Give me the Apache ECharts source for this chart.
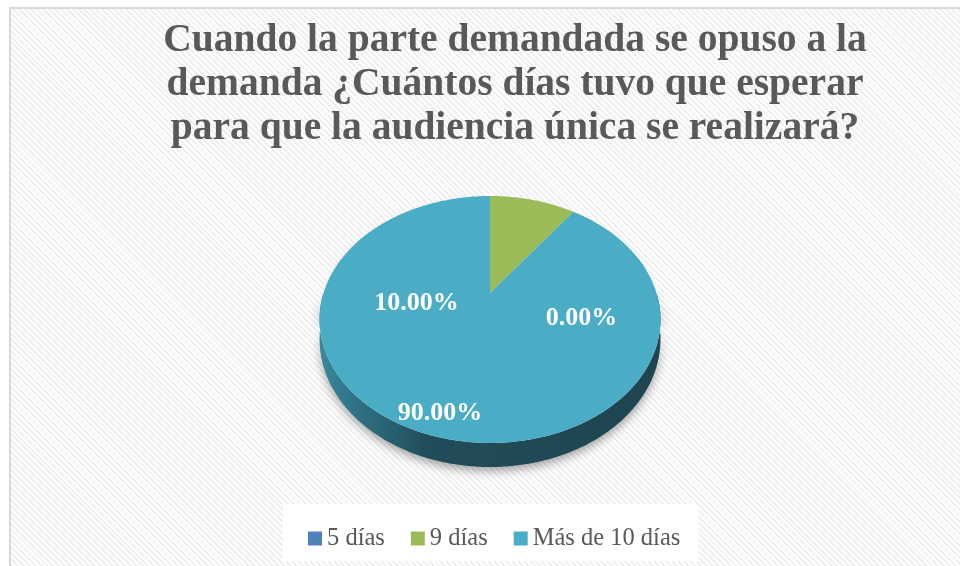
<!DOCTYPE html>
<html>
<head>
<meta charset="utf-8">
<title>Días de espera</title>
<script src="https://cdn.jsdelivr.net/npm/echarts@6/dist/echarts.min.js"></script>
<style>
  body { margin: 0; background: #fff; }
  #wrap { position: relative; width: 960px; height: 566px; overflow: hidden; }
  .frame {
    position: absolute; left: 9px; top: 7px; width: 1010px; height: 620px;
    border: 2px solid #d9d9d9;
    background: repeating-linear-gradient(45deg, #ffffff 0 2.1px, #efefef 2.1px 4.2px);
  }
  #main { position: absolute; left: 0; top: 0; width: 960px; height: 566px; }
</style>
</head>
<body>
<div id="wrap">
  <div class="frame"></div>
  <div id="main"></div>
</div>
<script>
// datos
var titleLines = [
  'Cuando la parte demandada se opuso a la',
  'demanda ¿Cuántos días tuvo que esperar',
  'para que la audiencia única se realizará?'
];
var categories = ['5 días', '9 días', 'Más de 10 días'];
var percents = [0, 10, 90];
var colors = ['#4f81bd', '#9bbb59', '#4bacc6'];

// posiciones de etiqueta (ángulo en grados desde arriba, radio relativo)
var labelAngle = [111.5, 258.6, 196.4];
var labelRadius = [0.564, 0.442, 0.874];

// proyección de la tarta "3D"
var R = 166.5, A = 117.8, B = 0.2145, H = 18.9;
function proj(deg, drop, r) {
  if (r == null) r = 1;
  var t = deg * Math.PI / 180;
  var u = r * Math.sin(t), v = r * Math.cos(t);
  var den = 1 + B * v;
  return [R * u / den, (A * v - drop) / den];
}

var total = percents.reduce(function (s, v) { return s + v; }, 0);
var starts = [];
var acc = 0;
for (var i = 0; i < percents.length; i++) {
  starts.push(acc / total * 360);
  acc += percents[i];
}

var wallFill = [
  '#2f4f75',
  '#5e7634',
  { type: 'linear', x: 0, y: 0, x2: 1, y2: 0, colorStops: [
    { offset: 0, color: '#3a889d' },
    { offset: 0.1, color: '#2f7387' },
    { offset: 0.32, color: '#214c59' },
    { offset: 1, color: '#1e4550' }
  ] }
];

function makeRender(idx) {
  return function (params, api) {
    var a0 = starts[idx];
    var a1 = a0 + percents[idx] / total * 360;
    var children = [];
    if (a1 > a0) {
      var w0 = Math.max(a0, 90), w1 = Math.min(a1, 270);
      if (w1 > w0) {
        var wp = [], a;
        for (a = w0; a < w1; a += 1) wp.push(api.coord(proj(a, 0)));
        wp.push(api.coord(proj(w1, 0)));
        for (a = w1; a > w0; a -= 1) wp.push(api.coord(proj(a, H)));
        wp.push(api.coord(proj(w0, H)));
        children.push({
          type: 'polygon', z2: 1, shape: { points: wp },
          style: { fill: wallFill[idx], shadowBlur: 10, shadowOffsetY: 4, shadowColor: 'rgba(0,0,0,0.35)' }
        });
      }
      var fp = [api.coord([0, 0])];
      for (var b = a0; b < a1; b += 1) fp.push(api.coord(proj(b, 0)));
      fp.push(api.coord(proj(a1, 0)));
      children.push({
        type: 'polygon', z2: 10, shape: { points: fp },
        style: { fill: colors[idx] }
      });
    }
    var lp = api.coord(proj(labelAngle[idx], 0, labelRadius[idx]));
    children.push({
      type: 'text', z2: 100, x: lp[0], y: lp[1],
      style: {
        text: percents[idx].toFixed(2) + '%',
        fill: '#fff', fontSize: 26, fontWeight: 'bold',
        fontFamily: '"Liberation Serif", serif',
        align: 'center', verticalAlign: 'middle'
      }
    });
    return { type: 'group', children: children };
  };
}

var series = categories.map(function (name, idx) {
  return {
    name: name,
    type: 'custom',
    coordinateSystem: 'cartesian2d',
    itemStyle: { color: colors[idx] },
    renderItem: makeRender(idx),
    data: [[0, 0, percents[idx]]],
    silent: true
  };
});

var chart = echarts.init(document.getElementById('main'));
chart.setOption({
  backgroundColor: 'transparent',
  animation: false,
  graphic: [{
    type: 'text', x: 515, y: 19,
    style: {
      text: titleLines.join('\n'),
      fill: '#595959', fontSize: 39.5, fontWeight: 'bold',
      fontFamily: '"Liberation Serif", serif',
      lineHeight: 44, align: 'center', verticalAlign: 'top'
    }
  }],
  legend: {
    data: categories,
    left: 283, top: 504,
    padding: [22, 18, 10, 25],
    backgroundColor: '#fff',
    icon: 'rect', itemWidth: 14, itemHeight: 14, itemGap: 26,
    selectedMode: false,
    textStyle: { fontFamily: '"Liberation Serif", serif', fontSize: 24.5, color: '#595959' }
  },
  grid: { left: 290, top: 93, width: 400, height: 400 },
  xAxis: { type: 'value', min: -200, max: 200, show: false },
  yAxis: { type: 'value', min: -200, max: 200, show: false },
  series: series
});
</script>
</body>
</html>
